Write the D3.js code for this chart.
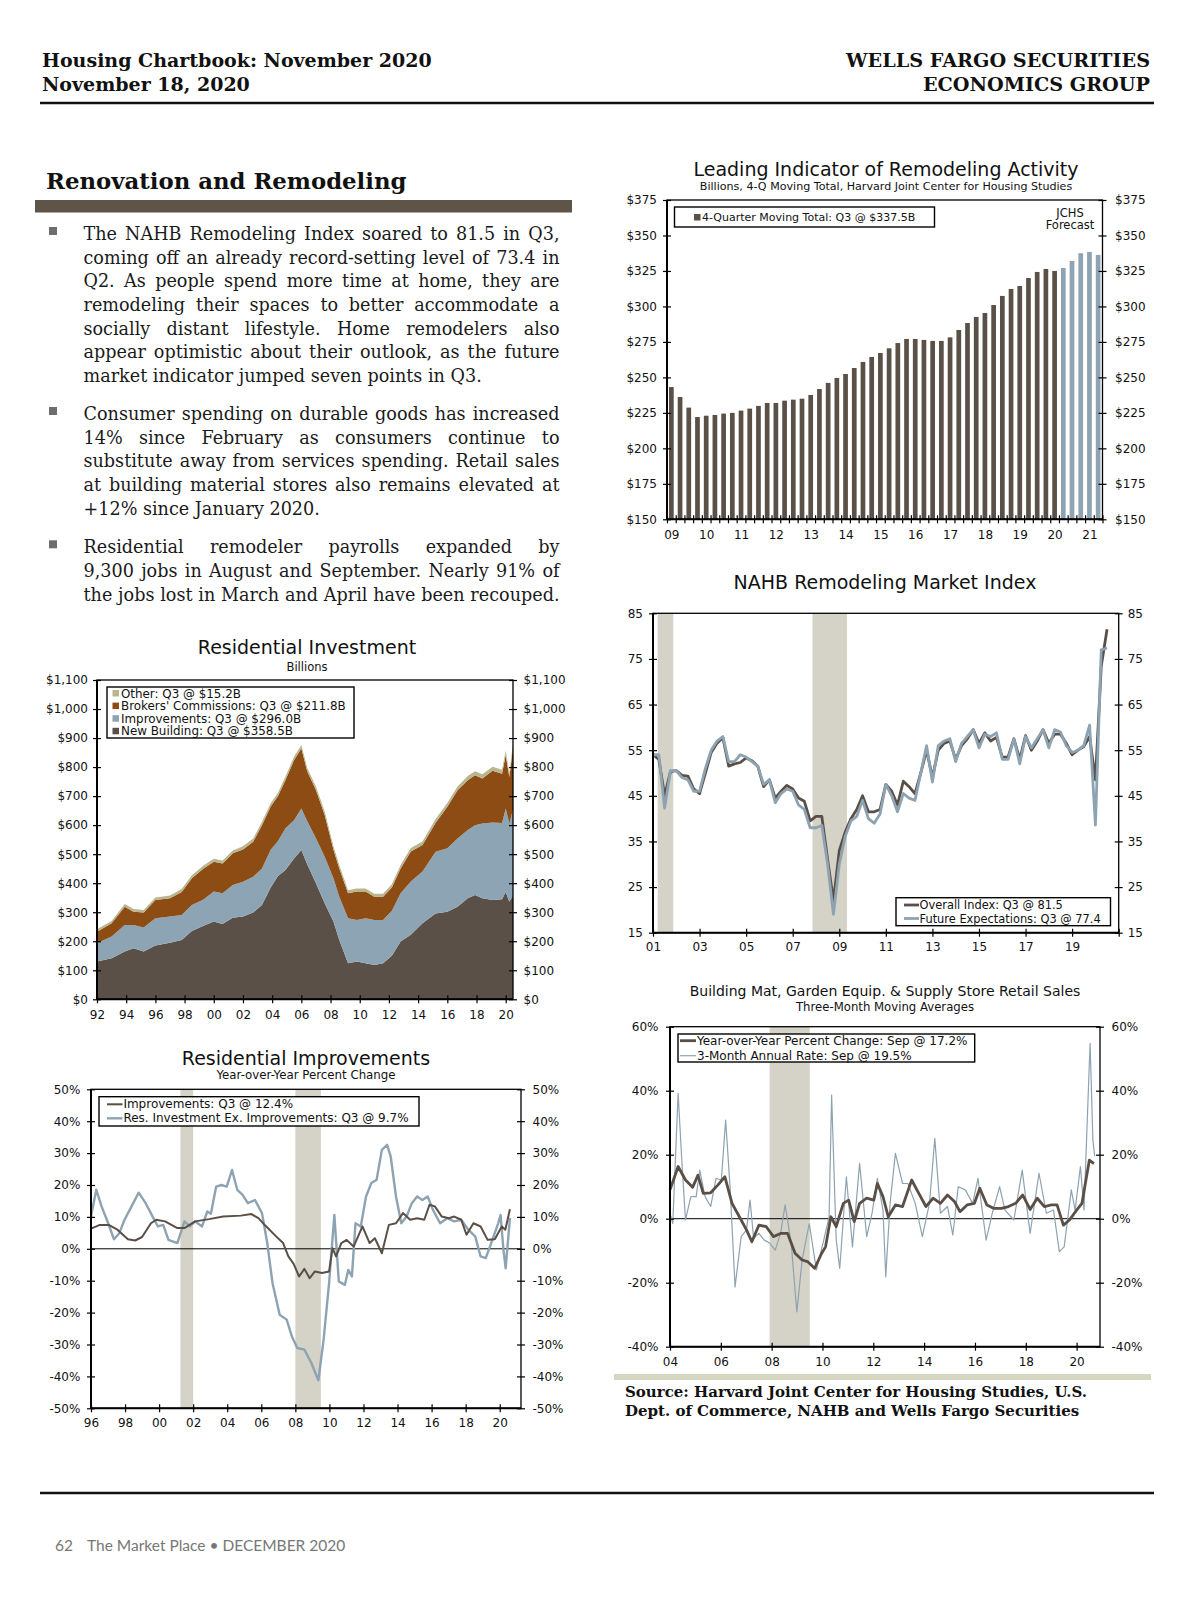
<!DOCTYPE html>
<html>
<head>
<meta charset="utf-8">
<script src="https://cdn.jsdelivr.net/npm/d3@7"></script>
<style>
  body { margin: 0; background: #fff; }
  svg { display: block; }
</style>
</head>
<body>
<script>
// ---------- data ----------
// Leading Indicator of Remodeling Activity, 4-Q moving total, 2009Q1 .. 2021Q2
var liraStartYear = 2009;
var liraValues = [243.2, 236.2, 228.7, 222.1, 223.0, 223.5, 224.5, 225.0, 226.6, 228.0,
  229.9, 232.0, 232.0, 233.6, 234.3, 235.0, 237.6, 241.8, 246.1, 249.6,
  252.4, 256.6, 260.9, 264.4, 267.2, 270.5, 274.2, 277.1, 277.1, 276.4,
  275.7, 275.7, 278.2, 283.4, 288.3, 292.6, 295.4, 301.0, 307.4, 312.3,
  314.4, 320.0, 324.3, 326.4, 325.0, 327.1, 332.0, 337.5, 338.4, 336.3];
var liraForecastFrom = 45;
var liraYearLabels = ["09","10","11","12","13","14","15","16","17","18","19","20","21"];
var liraTicks = [150, 175, 200, 225, 250, 275, 300, 325, 350, 375];

// NAHB Remodeling Market Index, quarterly 2001Q1 .. 2020Q3
var nahbStartYear = 2001;
var nahbOverall = [54, 53, 45, 50.3, 50.5, 49.5, 49.3, 46.5, 45.5, 50, 54.5, 56.5,
  57.8, 51.5, 52, 52.3, 53.3, 52.7, 51.5, 47, 48.5, 44.5, 46, 47.3,
  46.5, 44.5, 43.8, 39.5, 40.5, 40.5, 31, 22, 33, 37, 40, 42,
  45, 41.5, 41.5, 42, 47.5, 46, 43, 48.2, 47, 45.5, 50, 55,
  49, 55, 56.5, 57, 53, 56, 57.5, 59.5, 56.5, 58.8, 57, 57.8,
  53.5, 53.5, 57.5, 53, 58.2, 55, 57, 59.5, 56.5, 58.5, 58.5, 56.5,
  54, 55, 55.8, 58, 48.5, 73.4, 81.5];
var nahbFuture = [54, 54, 42.3, 50.5, 50.5, 49, 48.5, 46, 46, 51, 55, 57,
  58, 52.5, 52.5, 54, 53.5, 52.5, 51.5, 47.5, 48.5, 43.5, 45.5, 46.5,
  46, 43, 42, 38, 38, 38.5, 30, 19, 30, 36, 39.5, 40.5,
  44, 40, 39, 41, 47.5, 45, 41.5, 45.5, 44.5, 44, 50, 56,
  48, 56, 57, 57.5, 52.5, 56.5, 58, 59.5, 55.5, 58.5, 58, 58.8,
  53, 53, 57.5, 52, 58, 55.5, 57.5, 59.5, 55.5, 59.5, 59, 56,
  54.5, 55, 56, 60.5, 38.6, 77, 77.4];
var nahbTicks = [15, 25, 35, 45, 55, 65, 75, 85];
var nahbYearTicks = [2001, 2003, 2005, 2007, 2009, 2011, 2013, 2015, 2017, 2019, 2021];
var nahbRecessions = [[2001.2, 2001.87], [2007.85, 2009.33]];

// Residential Investment, billions (stacked)
var invDates = [1992.0, 1993.0, 1993.9, 1994.5, 1995.2, 1996.0, 1997.0, 1997.8, 1998.5, 1999.3,
  2000.0, 2000.6, 2001.3, 2002.0, 2002.7, 2003.3, 2003.9, 2004.4, 2004.9, 2005.5,
  2006.0, 2006.4, 2007.0, 2007.6, 2008.2, 2008.6, 2009.2, 2009.8, 2010.4, 2011.0,
  2011.6, 2012.2, 2012.8, 2013.5, 2014.3, 2015.2, 2016.0, 2016.7, 2017.4, 2017.9,
  2018.4, 2019.1, 2019.75, 2020.0, 2020.25, 2020.5];
var invNewBuilding = [130, 141, 165, 176, 165, 185, 195, 204, 235, 253,
  268, 259, 281, 285, 299, 325, 385, 425, 445, 485,
  514, 465, 400, 331, 268, 204, 124, 130, 124, 118,
  124, 150, 199, 222, 262, 296, 302, 319, 348, 359,
  348, 342, 345, 370, 336, 358.5];
var invImprovements = [63, 75, 91, 80, 82, 94, 90, 86, 90, 91,
  103, 106, 113, 120, 123, 126, 130, 120, 143, 132,
  143, 149, 155, 160, 149, 149, 155, 143, 155, 155,
  149, 155, 166, 184, 178, 212, 218, 235, 235, 241,
  258, 267, 262, 287, 270, 296.0];
var invBrokers = [40, 46, 63, 46, 52, 63, 63, 80, 92, 107,
  103, 103, 109, 111, 121, 149, 149, 155, 166, 207,
  207, 172, 166, 144, 98, 98, 86, 98, 92, 80,
  80, 80, 86, 103, 92, 100, 143, 166, 172, 172,
  155, 178, 170, 184, 160, 211.8];
var invOther = [8, 8, 9, 9, 9, 9, 10, 10, 10, 10,
  10, 10, 10, 11, 11, 11, 11, 12, 12, 12,
  12, 12, 12, 12, 12, 12, 11, 11, 11, 11,
  11, 11, 12, 12, 12, 13, 13, 13, 14, 14,
  14, 14, 14, 15, 14, 15.2];
var invTicks = [0, 100, 200, 300, 400, 500, 600, 700, 800, 900, 1000, 1100];
var invYearTicks = [1992, 1994, 1996, 1998, 2000, 2002, 2004, 2006, 2008, 2010, 2012, 2014, 2016, 2018, 2020];
var invLegend = ["Other: Q3 @ $15.2B", "Brokers' Commissions: Q3 @ $211.8B",
  "Improvements: Q3 @ $296.0B", "New Building: Q3 @ $358.5B"];

// Residential Improvements, yoy % change
var impDates = [1996.0, 1996.52, 1997.04, 1997.55, 1998.17, 1998.59, 1999.0, 1999.52, 1999.83, 2000.35,
  2001.07, 2001.49, 2002.11, 2002.94, 2003.76, 2004.8, 2005.42, 2005.83, 2006.25, 2006.87,
  2007.28, 2007.59, 2007.9, 2008.22, 2008.53, 2008.84, 2009.15, 2009.56, 2009.98, 2010.18,
  2010.39, 2010.7, 2011.01, 2011.42, 2011.94, 2012.36, 2012.67, 2013.08, 2013.49, 2013.91,
  2014.32, 2014.74, 2015.15, 2015.57, 2015.88, 2016.19, 2016.6, 2017.01, 2017.33, 2017.74,
  2018.05, 2018.46, 2018.88, 2019.29, 2019.71, 2020.12, 2020.33, 2020.6];
var impValues = [6.3, 7.5, 7.5, 6.0, 3.0, 2.6, 3.7, 8.0, 9.1, 8.6,
  6.5, 6.5, 8.6, 9.3, 10.1, 10.4, 10.9, 9.6, 7.2, 3.9,
  1.8, -2.4, -4.7, -8.7, -6.3, -9.2, -7.1, -7.6, -7.1, 0.2,
  -2.4, 1.8, 2.8, 0.7, 7.0, 1.8, 3.3, -1.4, 7.5, 8.0,
  11.2, 9.1, 9.6, 9.1, 13.8, 13.3, 10.1, 9.6, 10.1, 9.1,
  4.4, 8.0, 7.0, 2.8, 3.0, 7.0, 6.0, 12.4];
var exDates = [1996.0, 1996.31, 1996.62, 1996.93, 1997.35, 1997.66, 1997.97, 1998.38, 1998.8, 1999.21,
  1999.62, 1999.93, 2000.24, 2000.55, 2001.07, 2001.49, 2001.8, 2002.11, 2002.52, 2002.83,
  2003.04, 2003.35, 2003.66, 2003.97, 2004.28, 2004.59, 2004.9, 2005.21, 2005.63, 2006.04,
  2006.35, 2006.66, 2007.08, 2007.49, 2007.8, 2008.11, 2008.53, 2008.94, 2009.35, 2009.66,
  2009.98, 2010.29, 2010.55, 2010.91, 2011.11, 2011.32, 2011.53, 2011.84, 2012.15, 2012.46,
  2012.77, 2013.08, 2013.39, 2013.6, 2013.91, 2014.22, 2014.53, 2014.84, 2015.15, 2015.46,
  2015.77, 2016.08, 2016.5, 2016.91, 2017.33, 2017.74, 2018.15, 2018.56, 2018.88, 2019.18,
  2019.5, 2019.91, 2020.05, 2020.22, 2020.35, 2020.6];
var exValues = [10.1, 18.5, 13.3, 9.1, 3.0, 4.9, 9.1, 13.3, 17.6, 14.3,
  10.1, 7.0, 7.5, 2.8, 1.8, 8.6, 7.0, 8.6, 7.0, 11.7,
  11.0, 19.5, 20.0, 19.5, 24.7, 18.5, 16.9, 14.3, 15.3, 11.2,
  1.8, -10.8, -20.7, -22.2, -27.5, -31.1, -31.6, -35.8, -41.2, -28.5,
  -10.8, 10.6, -10.2, -11.3, -6.6, -8.7, 8.0, 7.0, 16.4, 20.6,
  21.6, 31.0, 32.6, 28.9, 16.4, 8.0, 10.1, 14.3, 16.4, 15.3,
  16.4, 12.2, 8.0, 9.6, 8.6, 9.1, 6.0, 3.9, -2.4, -2.9,
  1.8, 8.0, 10.6, -0.3, -6.1, 9.7];
var impTicks = [-50, -40, -30, -20, -10, 0, 10, 20, 30, 40, 50];
var impYearTicks = [1996, 1998, 2000, 2002, 2004, 2006, 2008, 2010, 2012, 2014, 2016, 2018, 2020];
var impRecessions = [[2001.25, 2002.0], [2008.0, 2009.5]];

// Building material store sales, 3-month moving averages
var bmYoyDates = [2004.0, 2004.32, 2004.61, 2004.89, 2005.1, 2005.31, 2005.6, 2005.88, 2006.16, 2006.44,
  2006.73, 2007.01, 2007.22, 2007.5, 2007.79, 2008.07, 2008.35, 2008.63, 2008.92, 2009.2,
  2009.41, 2009.69, 2009.97, 2010.12, 2010.33, 2010.54, 2010.82, 2011.03, 2011.25, 2011.46,
  2011.74, 2012.02, 2012.16, 2012.38, 2012.59, 2012.87, 2013.15, 2013.51, 2013.79, 2014.07,
  2014.35, 2014.64, 2014.92, 2015.2, 2015.41, 2015.69, 2015.98, 2016.19, 2016.47, 2016.75,
  2017.04, 2017.32, 2017.6, 2017.88, 2018.17, 2018.45, 2018.73, 2019.01, 2019.23, 2019.48,
  2019.72, 2020.0, 2020.21, 2020.5, 2020.68];
var bmYoy = [9.0, 16.3, 12.1, 9.8, 13.6, 7.9, 8.1, 10.5, 13.1, 4.8,
  0.6, -3.5, -7.2, -2.0, -2.5, -5.6, -4.6, -4.6, -10.8, -12.9,
  -13.4, -15.5, -10.8, -8.8, 0.6, -2.5, 4.8, 5.8, -0.9, 4.8,
  6.4, 5.8, 11.0, 6.9, 0.6, 4.3, 3.8, 12.1, 7.9, 3.8,
  6.4, 4.8, 7.4, 5.3, 2.2, 4.3, 4.8, 9.5, 4.3, 3.2,
  3.2, 3.8, 4.8, 7.4, 2.9, 6.4, 3.8, 4.3, 4.3, -2.0,
  -0.4, 2.7, 4.8, 18.3, 17.2];
var bmRateDates = [2004.0, 2004.11, 2004.32, 2004.47, 2004.61, 2004.82, 2005.03, 2005.17, 2005.38, 2005.6,
  2005.81, 2006.02, 2006.19, 2006.37, 2006.56, 2006.8, 2007.01, 2007.15, 2007.29, 2007.5,
  2007.71, 2007.93, 2008.14, 2008.35, 2008.53, 2008.77, 2008.99, 2009.2, 2009.48, 2009.76,
  2010.05, 2010.26, 2010.36, 2010.54, 2010.68, 2010.94, 2011.18, 2011.46, 2011.74, 2011.95,
  2012.16, 2012.38, 2012.49, 2012.66, 2012.87, 2013.15, 2013.36, 2013.65, 2013.93, 2014.21,
  2014.42, 2014.64, 2014.92, 2015.13, 2015.34, 2015.62, 2015.91, 2016.12, 2016.44, 2016.68,
  2016.97, 2017.18, 2017.53, 2017.86, 2018.17, 2018.52, 2018.81, 2019.09, 2019.32, 2019.51,
  2019.79, 2019.94, 2020.15, 2020.29, 2020.53, 2020.64, 2020.71];
var bmRate = [1.7, -1.5, 39.2, 17.3, -0.4, 6.9, 6.9, 15.2, 6.9, 3.8,
  12.6, 12.1, 30.8, 9.0, -21.3, -5.6, -3.5, 5.8, -6.1, -4.6,
  -6.7, -7.7, -9.8, -4.6, 4.3, -7.7, -29.1, -12.9, -1.5, -16.0,
  -6.7, 0.6, 38.6, -6.7, -15.5, 13.1, -8.8, 17.3, -5.6, 1.7,
  12.6, 2.7, -18.1, 4.8, 20.4, 11.0, 11.0, 4.8, -5.6, 4.8,
  25.1, 1.7, 3.8, -5.1, 10.0, 9.0, 4.8, 12.6, -6.7, 1.7,
  10.0, 2.7, -0.4, 15.2, -4.6, 14.2, 1.7, 2.7, -10.3, -8.8,
  9.0, 2.7, 16.3, 2.7, 54.8, 24.6, 19.5];
var bmTicks = [-40, -20, 0, 20, 40, 60];
var bmYearTicks = [2004, 2006, 2008, 2010, 2012, 2014, 2016, 2018, 2020];
var bmRecessions = [[2007.92, 2009.5]];

var bullets = [
  ["The NAHB Remodeling Index soared to 81.5 in Q3,",
   "coming off an already record-setting level of 73.4 in",
   "Q2. As people spend more time at home, they are",
   "remodeling their spaces to better accommodate a",
   "socially distant lifestyle. Home remodelers also",
   "appear optimistic about their outlook, as the future",
   "market indicator jumped seven points in Q3."],
  ["Consumer spending on durable goods has increased",
   "14% since February as consumers continue to",
   "substitute away from services spending. Retail sales",
   "at building material stores also remains elevated at",
   "+12% since January 2020."],
  ["Residential remodeler payrolls expanded by",
   "9,300 jobs in August and September. Nearly 91% of",
   "the jobs lost in March and April have been recouped."]
];

// ---------- styles ----------
var dark = "#5a4f46", light = "#8da3b2", orange = "#8c4c13", khaki = "#b8b58f",
    shade = "#d5d2c7", serif = "DejaVu Serif", sans = "DejaVu Sans";

var svg = d3.select("body").append("svg")
    .attr("width", 1200)
    .attr("height", 1606);

// ---------- page header ----------
function txt(x, y, s, size, opts) {
  opts = opts || {};
  return svg.append("text")
      .attr("x", x).attr("y", y)
      .attr("font-family", opts.family || sans)
      .attr("font-size", size)
      .attr("font-weight", opts.weight || "normal")
      .attr("text-anchor", opts.anchor || "start")
      .attr("fill", opts.fill || "#111")
      .text(s);
}

txt(42, 67, "Housing Chartbook: November 2020", 19, {family: serif, weight: "bold"});
txt(42, 91, "November 18, 2020", 19, {family: serif, weight: "bold"});
txt(1150, 67, "WELLS FARGO SECURITIES", 19.2, {family: serif, weight: "bold", anchor: "end"});
txt(1150, 91, "ECONOMICS GROUP", 19.2, {family: serif, weight: "bold", anchor: "end"});
svg.append("line").attr("x1", 40).attr("x2", 1154).attr("y1", 103).attr("y2", 103)
    .attr("stroke", "#111").attr("stroke-width", 2.5);

txt(46, 189, "Renovation and Remodeling", 22.8, {family: serif, weight: "bold"});
svg.append("rect").attr("x", 35).attr("y", 200).attr("width", 537).attr("height", 12.5)
    .attr("fill", "#5e5448");

// ---------- bullet text, justified ----------
var paraStart = [240, 420, 553.3], lineH = 23.65, textL = 83.5, textR = 559.5;
bullets.forEach(function(lines, p) {
  var y0 = paraStart[p];
  svg.append("rect").attr("x", 49).attr("y", y0 - 13).attr("width", 8).attr("height", 8)
      .attr("fill", "#6d6d6d");
  lines.forEach(function(line, i) {
    var y = y0 + i * lineH;
    var words = line.split(" ");
    var g = svg.append("g");
    var widths = words.map(function(w) {
      var t = g.append("text").attr("y", y)
          .attr("font-family", serif).attr("font-size", 17.6).attr("fill", "#1a1a1a").text(w);
      return t.node().getComputedTextLength();
    });
    var total = d3.sum(widths);
    var isLast = (i === lines.length - 1) && p !== 2;
    var gap = isLast ? 5.6 : (textR - textL - total) / (words.length - 1);
    var x = textL;
    g.selectAll("text").each(function(d, k) {
      d3.select(this).attr("x", x);
      x += widths[k] + gap;
    });
  });
});

// ---------- chart helpers ----------
function frame(g, x0, x1, y0, y1) {
  g.append("rect").attr("x", x0).attr("y", y0).attr("width", x1 - x0).attr("height", y1 - y0)
      .attr("fill", "none").attr("stroke", "#000").attr("stroke-width", 1.3);
  g.append("line").attr("x1", x0).attr("x2", x0).attr("y1", y0).attr("y2", y1)
      .attr("stroke", "#000").attr("stroke-width", 2);
  g.append("line").attr("x1", x0).attr("x2", x1).attr("y1", y1).attr("y2", y1)
      .attr("stroke", "#000").attr("stroke-width", 2);
}

function styleAxis(a, size) {
  a.attr("font-family", sans).attr("font-size", size || 12);
  a.select(".domain").remove();
  a.selectAll(".tick line").attr("stroke", "#000").attr("stroke-width", 1.2);
  a.selectAll(".tick text").attr("fill", "#111");
  return a;
}

function yAxes(g, y, x0, x1, ticks, fmt, padL, padR) {
  styleAxis(g.append("g").attr("transform", "translate(" + (x0 + 4) + ",0)")
      .call(d3.axisLeft(y).tickValues(ticks).tickSize(8).tickPadding(padL).tickFormat(fmt)));
  styleAxis(g.append("g").attr("transform", "translate(" + (x1 - 4) + ",0)")
      .call(d3.axisRight(y).tickValues(ticks).tickSize(8).tickPadding(padR).tickFormat(fmt)));
}

function xAxis(g, x, yb, ticks, pad, lastLabel) {
  styleAxis(g.append("g").attr("transform", "translate(0," + (yb - 4) + ")")
      .call(d3.axisBottom(x).tickValues(ticks).tickSize(8).tickPadding(pad)
        .tickFormat(function(d) {
          return (lastLabel && d > lastLabel) ? "" : String(d % 100).padStart(2, "0");
        })));
}

function titles(g, cx, t1, y1, s1, t2, y2, s2) {
  g.append("text").attr("x", cx).attr("y", y1).attr("text-anchor", "middle")
      .attr("font-family", sans).attr("font-size", s1).attr("fill", "#111").text(t1);
  if (t2) g.append("text").attr("x", cx).attr("y", y2).attr("text-anchor", "middle")
      .attr("font-family", sans).attr("font-size", s2).attr("fill", "#111").text(t2);
}

function legendBox(g, x0, y0, w, h) {
  g.append("rect").attr("x", x0).attr("y", y0).attr("width", w).attr("height", h)
      .attr("fill", "#fff").attr("stroke", "#000").attr("stroke-width", 1.4);
}

function legendLine(g, x0, x1, yc, color, width, label, tx, size) {
  g.append("line").attr("x1", x0).attr("x2", x1).attr("y1", yc).attr("y2", yc)
      .attr("stroke", color).attr("stroke-width", width);
  g.append("text").attr("x", tx).attr("y", yc + 4).attr("font-family", sans)
      .attr("font-size", size || 12).attr("fill", "#111").text(label);
}

function pct(d) { return d + "%"; }

// ---------- Leading Indicator of Remodeling Activity ----------
(function() {
  var g = svg.append("g");
  var L = 667, R = 1102.5, T = 200, B = 519.3;
  titles(g, 886, "Leading Indicator of Remodeling Activity", 175.5, 19,
      "Billions, 4-Q Moving Total, Harvard Joint Center for Housing Studies", 190, 11.1);
  var idx = d3.range(liraValues.length);
  var x = d3.scaleBand().domain(idx).range([L, R]).paddingInner(0.46).paddingOuter(0.23);
  var y = d3.scaleLinear().domain([150, 375]).range([B, T]);
  g.selectAll("rect.bar").data(liraValues).join("rect")
      .attr("class", "bar")
      .attr("x", function(d, i) { return x(i); })
      .attr("width", x.bandwidth())
      .attr("y", function(d) { return y(d); })
      .attr("height", function(d) { return B - y(d); })
      .attr("fill", function(d, i) { return i >= liraForecastFrom ? "#8fa4b3" : "#5b5047"; });
  frame(g, L, R, T, B);
  yAxes(g, y, L, R, liraTicks, function(d) { return "$" + d; }, 6, 8.5);
  // category boundary ticks
  var xi = d3.scaleLinear().domain([0, liraValues.length]).range([L, R]);
  styleAxis(g.append("g").attr("transform", "translate(0," + (B - 4) + ")")
      .call(d3.axisBottom(xi).tickValues(d3.range(0, liraValues.length + 1)).tickSize(8).tickFormat("")));
  // year labels under first quarter of each year
  var labelIdx = liraYearLabels.map(function(s, k) { return k * 4; });
  styleAxis(g.append("g").attr("transform", "translate(0," + B + ")")
      .call(d3.axisBottom(xi).tickValues(labelIdx.map(function(k) { return k + 0.5; }))
        .tickSize(0).tickPadding(11).tickFormat(function(d, k) { return liraYearLabels[k]; })));
  legendBox(g, 674.5, 207, 260, 20);
  g.append("rect").attr("x", 694).attr("y", 214).attr("width", 6.5).attr("height", 6.5).attr("fill", "#5b5047");
  g.append("text").attr("x", 702).attr("y", 221).attr("font-family", sans).attr("font-size", 11)
      .attr("fill", "#111").text("4-Quarter Moving Total: Q3 @ $337.5B");
  g.append("text").attr("x", 1070).attr("y", 217).attr("text-anchor", "middle").attr("font-family", sans)
      .attr("font-size", 11.5).attr("fill", "#111").text("JCHS");
  g.append("text").attr("x", 1070).attr("y", 229).attr("text-anchor", "middle").attr("font-family", sans)
      .attr("font-size", 11.5).attr("fill", "#111").text("Forecast");
})();

// ---------- NAHB Remodeling Market Index ----------
(function() {
  var g = svg.append("g");
  var L = 653, R = 1118.7, T = 613.3, B = 932.7;
  titles(g, 885, "NAHB Remodeling Market Index", 588.5, 19);
  var x = d3.scaleLinear().domain([2001, 2021]).range([L, R]);
  var y = d3.scaleLinear().domain([15, 85]).range([B, T]);
  nahbRecessions.forEach(function(r) {
    g.append("rect").attr("x", x(r[0])).attr("width", x(r[1]) - x(r[0]))
        .attr("y", T).attr("height", B - T).attr("fill", shade);
  });
  function t(i) { return nahbStartYear + i / 4; }
  var line = d3.line().x(function(d, i) { return x(t(i)); }).y(function(d) { return y(d); });
  g.append("path").datum(nahbOverall).attr("d", line).attr("fill", "none")
      .attr("stroke", dark).attr("stroke-width", 2.8).attr("stroke-linejoin", "round");
  g.append("path").datum(nahbFuture).attr("d", line).attr("fill", "none")
      .attr("stroke", light).attr("stroke-width", 2.8).attr("stroke-linejoin", "round");
  frame(g, L, R, T, B);
  yAxes(g, y, L, R, nahbTicks, String, 6, 5);
  xAxis(g, x, B, nahbYearTicks, 6, 2019);
  legendBox(g, 896, 897.7, 214.5, 28);
  legendLine(g, 904, 919, 905, dark, 2.8, "Overall Index: Q3 @ 81.5", 919.5, 11.4);
  legendLine(g, 904, 919, 918.5, light, 2.8, "Future Expectations: Q3 @ 77.4", 919.5, 11.4);
})();

// ---------- Residential Investment ----------
(function() {
  var g = svg.append("g");
  var L = 97, R = 513, T = 680, B = 999.3;
  titles(g, 307, "Residential Investment", 653.5, 19, "Billions", 670.5, 11.5);
  var rows = invDates.map(function(d, i) {
    return {t: d, nb: invNewBuilding[i], im: invImprovements[i], br: invBrokers[i], ot: invOther[i]};
  });
  var keys = ["nb", "im", "br", "ot"];
  var colors = {nb: "#5b5047", im: "#8da4b4", br: orange, ot: khaki};
  var series = d3.stack().keys(keys)(rows);
  var x = d3.scaleLinear().domain([1992, 2020.5]).range([L, R]);
  var y = d3.scaleLinear().domain([0, 1100]).range([B, T]);
  var area = d3.area().x(function(d) { return x(d.data.t); })
      .y0(function(d) { return y(d[0]); }).y1(function(d) { return y(d[1]); });
  g.selectAll("path.layer").data(series).join("path").attr("class", "layer")
      .attr("d", area).attr("fill", function(s) { return colors[s.key]; });
  frame(g, L, R, T, B);
  yAxes(g, y, L, R, invTicks, d3.format("$,"), 5, 6.6);
  xAxis(g, x, B, invYearTicks, 7.5);
  legendBox(g, 107, 687, 247, 51);
  var legColors = [khaki, orange, "#8da4b4", "#5b5047"];
  invLegend.forEach(function(s, i) {
    var yc = 693.3 + i * 12.6;
    g.append("rect").attr("x", 112.5).attr("y", yc - 3.3).attr("width", 6.5).attr("height", 6.5)
        .attr("fill", legColors[i]);
    g.append("text").attr("x", 121).attr("y", yc + 4.2).attr("font-family", sans)
        .attr("font-size", 11.9).attr("fill", "#111").text(s);
  });
})();

// ---------- Residential Improvements ----------
(function() {
  var g = svg.append("g");
  var L = 91, R = 521, T = 1089.3, B = 1408.3;
  titles(g, 306, "Residential Improvements", 1064.5, 19, "Year-over-Year Percent Change", 1079, 11.8);
  var x = d3.scaleLinear().domain([1996, 2021.25]).range([L, R]);
  var y = d3.scaleLinear().domain([-50, 50]).range([B, T]);
  impRecessions.forEach(function(r) {
    g.append("rect").attr("x", x(r[0])).attr("width", x(r[1]) - x(r[0]))
        .attr("y", T).attr("height", B - T).attr("fill", shade);
  });
  g.append("line").attr("x1", L).attr("x2", R).attr("y1", y(0)).attr("y2", y(0))
      .attr("stroke", "#000").attr("stroke-width", 1);
  var line = d3.line().x(function(d) { return x(d[0]); }).y(function(d) { return y(d[1]); });
  g.append("path").datum(d3.zip(exDates, exValues)).attr("d", line).attr("fill", "none")
      .attr("stroke", light).attr("stroke-width", 2.4).attr("stroke-linejoin", "round");
  g.append("path").datum(d3.zip(impDates, impValues)).attr("d", line).attr("fill", "none")
      .attr("stroke", dark).attr("stroke-width", 2).attr("stroke-linejoin", "round");
  frame(g, L, R, T, B);
  yAxes(g, y, L, R, impTicks, pct, 6.6, 7.5);
  xAxis(g, x, B, impYearTicks, 6.5);
  legendBox(g, 99, 1096.7, 320, 29.3);
  legendLine(g, 107, 122.5, 1104.3, dark, 2, "Improvements: Q3 @ 12.4%", 123.4, 12);
  legendLine(g, 107, 122.5, 1118.3, light, 2.4, "Res. Investment Ex. Improvements: Q3 @ 9.7%", 123.4, 12);
})();

// ---------- Building Mat, Garden Equip. & Supply Store Retail Sales ----------
(function() {
  var g = svg.append("g");
  var L = 670, R = 1100, T = 1026.7, B = 1346.7;
  titles(g, 885, "Building Mat, Garden Equip. & Supply Store Retail Sales", 996, 14,
      "Three-Month Moving Averages", 1011, 11.7);
  var x = d3.scaleLinear().domain([2004, 2020.92]).range([L, R]);
  var y = d3.scaleLinear().domain([-40, 60]).range([B, T]);
  bmRecessions.forEach(function(r) {
    g.append("rect").attr("x", x(r[0])).attr("width", x(r[1]) - x(r[0]))
        .attr("y", T).attr("height", B - T).attr("fill", shade);
  });
  g.append("line").attr("x1", L).attr("x2", R).attr("y1", y(0)).attr("y2", y(0))
      .attr("stroke", "#000").attr("stroke-width", 1);
  var line = d3.line().x(function(d) { return x(d[0]); }).y(function(d) { return y(d[1]); });
  g.append("path").datum(d3.zip(bmRateDates, bmRate)).attr("d", line).attr("fill", "none")
      .attr("stroke", light).attr("stroke-width", 1.2).attr("stroke-linejoin", "round");
  g.append("path").datum(d3.zip(bmYoyDates, bmYoy)).attr("d", line).attr("fill", "none")
      .attr("stroke", dark).attr("stroke-width", 2.8).attr("stroke-linejoin", "round");
  frame(g, L, R, T, B);
  yAxes(g, y, L, R, bmTicks, pct, 7.5, 7.5);
  xAxis(g, x, B, bmYearTicks, 7);
  legendBox(g, 678, 1034, 296.7, 28);
  legendLine(g, 680, 696, 1040.7, dark, 2.8, "Year-over-Year Percent Change: Sep @ 17.2%", 697, 12);
  legendLine(g, 680, 696, 1055.7, light, 1.2, "3-Month Annual Rate: Sep @ 19.5%", 697, 12);
})();

// ---------- source + footer ----------
svg.append("rect").attr("x", 614).attr("y", 1374).attr("width", 537).attr("height", 6).attr("fill", "#d5d7c1");
txt(625, 1397, "Source: Harvard Joint Center for Housing Studies, U.S.", 15, {family: serif, weight: "bold"});
txt(625, 1416, "Dept. of Commerce, NAHB and Wells Fargo Securities", 15, {family: serif, weight: "bold"});

svg.append("line").attr("x1", 40).attr("x2", 1154).attr("y1", 1493).attr("y2", 1493)
    .attr("stroke", "#111").attr("stroke-width", 2.5);
txt(55, 1551, "62", 15.5, {family: "Lato", fill: "#777"});
txt(87, 1551, "The Market Place \u2022 DECEMBER 2020", 15.5, {family: "Lato", fill: "#777"});
</script>
</body>
</html>
